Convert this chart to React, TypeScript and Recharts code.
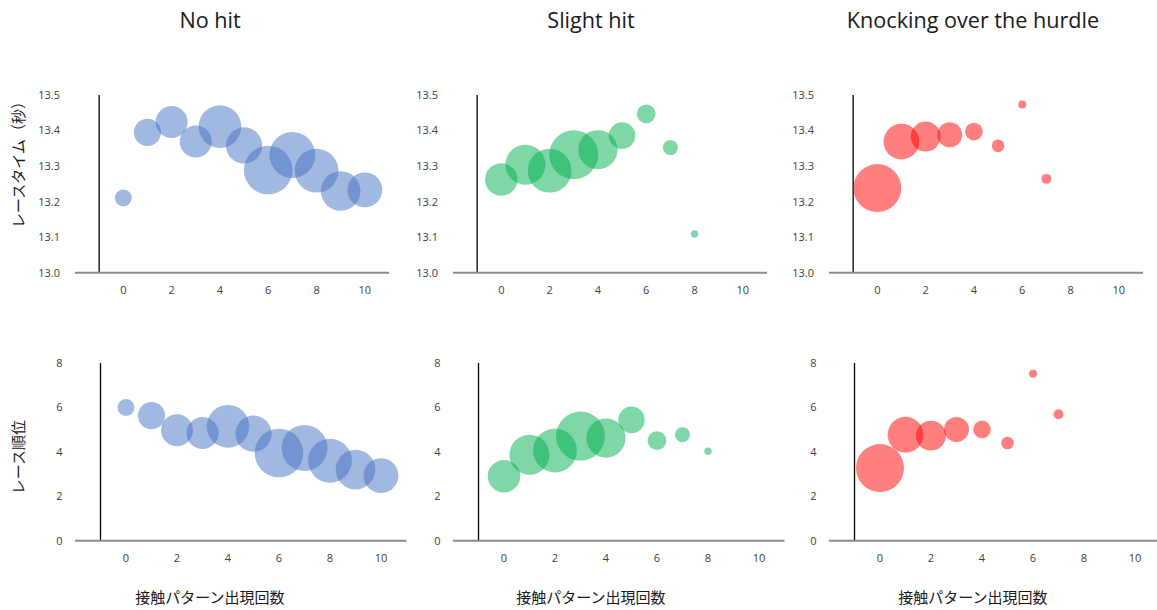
import React from 'react';
import { ScatterChart, Scatter, XAxis, YAxis, ZAxis, ReferenceLine } from 'recharts';

const FONT = '"Open Sans", "Noto Sans CJK JP", sans-serif';

const groupTitles = ['No hit', 'Slight hit', 'Knocking over the hurdle'];
const yTitleTime = 'レースタイム（秒）';
const yTitleRank = 'レース順位';
const xTitle = '接触パターン出現回数';

const xTicks = [0, 2, 4, 6, 8, 10];
const timeTicks = [13.0, 13.1, 13.2, 13.3, 13.4, 13.5];
const rankTicks = [0, 2, 4, 6, 8];

// No hit
const noHitX = [0, 1, 2, 3, 4, 5, 6, 7, 8, 9, 10];
const noHitTime = [13.21, 13.395, 13.424, 13.369, 13.411, 13.358, 13.289, 13.331, 13.287, 13.23, 13.233];
const noHitRank = [6.0, 5.63, 4.97, 4.85, 5.15, 4.82, 3.95, 4.17, 3.6, 3.2, 2.93];
const noHitCount = [9, 23, 32, 32, 57, 41, 74, 66, 60, 49, 38];

// Slight hit
const slightX = [0, 1, 2, 3, 4, 5, 6, 7, 8];
const slightTime = [13.262, 13.304, 13.287, 13.332, 13.346, 13.386, 13.447, 13.352, 13.109];
const slightRank = [2.9, 3.87, 4.06, 4.71, 4.62, 5.44, 4.51, 4.77, 4.03];
const slightCount = [33, 50, 60, 75, 48, 22, 11, 7, 1.7];

// Knocking over the hurdle
const knockX = [0, 1, 2, 3, 4, 5, 6, 7];
const knockTime = [13.238, 13.369, 13.383, 13.388, 13.397, 13.357, 13.473, 13.264];
const knockRank = [3.27, 4.77, 4.73, 5.01, 5.01, 4.4, 7.52, 5.69];
const knockCount = [72, 40, 28, 19.5, 9.7, 5, 2, 3.1];

const colors = ['#4472C4', '#00B050', '#FF0000'];

const zip = (xs: number[], ys: number[], zs: number[]) =>
  xs.map((x, i) => ({ x, y: ys[i], z: zs[i] }));

const groups = [
  { time: zip(noHitX, noHitTime, noHitCount), rank: zip(noHitX, noHitRank, noHitCount) },
  { time: zip(slightX, slightTime, slightCount), rank: zip(slightX, slightRank, slightCount) },
  { time: zip(knockX, knockTime, knockCount), rank: zip(knockX, knockRank, knockCount) },
];

const plotLefts = [75, 452.5, 829];
const titleCenters = [210, 591, 973];

type PanelProps = {
  data: { x: number; y: number; z: number }[];
  color: string;
  yDomain: [number, number];
  yTicks: number[];
  fmt: (v: number) => string;
  left: number;
  top: number;
  plotW: number;
  plotH: number;
  yGap: number;
};

function Panel({ data, color, yDomain, yTicks, fmt, left, top, plotW, plotH, yGap }: PanelProps) {
  const W = 70;
  const H = 30;
  const mt = 15;
  const mr = 5;
  const tickStyle = { fontSize: 11, fill: '#404040', stroke: 'none', fontFamily: FONT };
  return (
    <div style={{ position: 'absolute', left: left - W, top: top - mt }}>
      <ScatterChart
        width={W + plotW + mr}
        height={mt + plotH + H}
        margin={{ top: mt, right: mr, left: 0, bottom: 0 }}
      >
        <XAxis
          type="number"
          dataKey="x"
          domain={[-2, 11]}
          ticks={xTicks}
          interval={0}
          allowDataOverflow
          axisLine={{ stroke: '#8c8c8c', strokeWidth: 2 }}
          tickLine={false}
          tickSize={0}
          tickMargin={14}
          height={H}
          tick={tickStyle}
        />
        <YAxis
          type="number"
          dataKey="y"
          domain={yDomain}
          ticks={yTicks}
          interval={0}
          allowDataOverflow
          axisLine={false}
          tickLine={false}
          tickSize={0}
          tickMargin={yGap}
          width={W}
          tickFormatter={fmt}
          tick={tickStyle}
        />
        <ZAxis type="number" dataKey="z" domain={[0, 100]} range={[0, 800 * Math.PI]} />
        <ReferenceLine x={-1} stroke="#000" strokeWidth={1.3} />
        <Scatter
          data={data}
          fill={color}
          fillOpacity={0.5}
          isAnimationActive={false}
          shape={(p: any) => {
            const r = p.width != null ? p.width / 2 : Math.sqrt((p.size || 64) / Math.PI);
            return <circle cx={p.cx} cy={p.cy} r={r} fill={color} fillOpacity={0.5} stroke="none" />;
          }}
        />
      </ScatterChart>
    </div>
  );
}

const textBase: React.CSSProperties = {
  position: 'absolute',
  fontFamily: FONT,
  whiteSpace: 'nowrap',
  lineHeight: 1,
};

export default function App() {
  return (
    <div
      style={{
        position: 'absolute',
        left: 0,
        top: 0,
        width: 1157,
        height: 610,
        overflow: 'hidden',
        background: '#fff',
      }}
    >
      {groupTitles.map((t, i) => (
        <div
          key={'t' + i}
          style={{
            ...textBase,
            left: titleCenters[i],
            top: 20,
            transform: 'translate(-50%, -50%)',
            fontSize: 21.6,
            color: '#1a1a1a',
          }}
        >
          {t}
        </div>
      ))}
      {groups.map((g, i) => (
        <Panel
          key={'top' + i}
          data={g.time}
          color={colors[i]}
          yDomain={[13.0, 13.5]}
          yTicks={timeTicks}
          fmt={(v: number) => v.toFixed(1)}
          left={plotLefts[i]}
          top={95}
          plotW={314}
          plotH={177.7}
          yGap={15}
        />
      ))}
      {groups.map((g, i) => (
        <Panel
          key={'bot' + i}
          data={g.rank}
          color={colors[i]}
          yDomain={[0, 8]}
          yTicks={rankTicks}
          fmt={(v: number) => String(v)}
          left={plotLefts[i]}
          top={363.3}
          plotW={331.5}
          plotH={177.7}
          yGap={12.5}
        />
      ))}
      <div
        style={{
          ...textBase,
          left: 18,
          top: 161,
          transform: 'translate(-50%, -50%) rotate(-90deg)',
          fontSize: 15,
          color: '#1a1a1a',
        }}
      >
        {yTitleTime}
      </div>
      <div
        style={{
          ...textBase,
          left: 18,
          top: 457,
          transform: 'translate(-50%, -50%) rotate(-90deg)',
          fontSize: 15,
          color: '#1a1a1a',
        }}
      >
        {yTitleRank}
      </div>
      {titleCenters.map((c, i) => (
        <div
          key={'x' + i}
          style={{
            ...textBase,
            left: c,
            top: 597,
            transform: 'translate(-50%, -50%)',
            fontSize: 15,
            color: '#1a1a1a',
          }}
        >
          {xTitle}
        </div>
      ))}
    </div>
  );
}
